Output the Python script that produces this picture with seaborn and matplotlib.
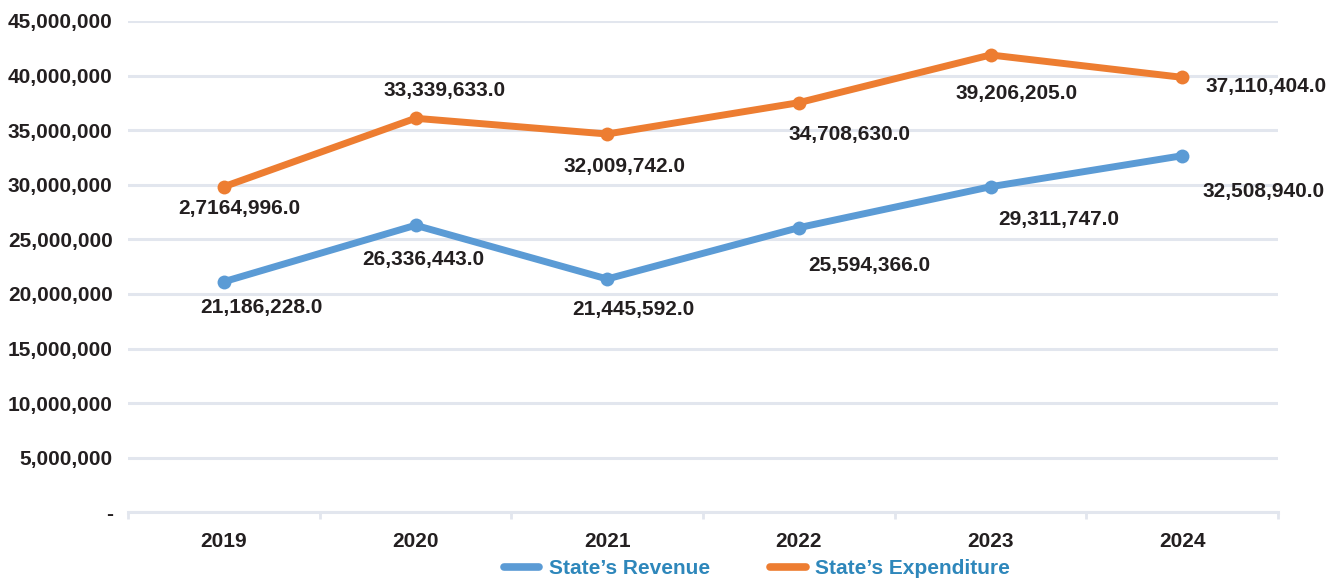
import matplotlib
matplotlib.use("Agg")
import matplotlib.pyplot as plt
from matplotlib.lines import Line2D
from matplotlib.ticker import FixedLocator, FuncFormatter
import seaborn as sns
import pandas as pd

# ---- data ----
years = ["2019", "2020", "2021", "2022", "2023", "2024"]
revenue = [21120000, 26290000, 21370000, 26070000, 29820000, 32660000]
expenditure = [29820000, 36090000, 34650000, 37520000, 41890000, 39840000]
revenue_labels = ["21,186,228.0", "26,336,443.0", "21,445,592.0",
                  "25,594,366.0", "29,311,747.0", "32,508,940.0"]
expenditure_labels = ["2,7164,996.0", "33,339,633.0", "32,009,742.0",
                      "34,708,630.0", "39,206,205.0", "37,110,404.0"]
series_names = ["State\u2019s Revenue", "State\u2019s Expenditure"]
y_ticks = [0, 5000000, 10000000, 15000000, 20000000, 25000000,
           30000000, 35000000, 40000000, 45000000]

# ---- styling ----
sns.set_theme(style="white")
plt.rcParams["font.family"] = ["Liberation Sans", "DejaVu Sans"]
plt.rcParams["font.weight"] = "bold"

colors = ["#5b9bd5", "#ed7d31"]
text_dark = "#231f20"
grid_col = "#e2e6ee"
legend_text_col = "#2e87bb"

# label offsets in points (dx, dy)
rev_offsets = [(27.4, -18.6), (5.4, -24.6), (19.1, -22.0),
               (51.1, -27.2), (49.3, -23.6), (58.7, -25.4)]
exp_offsets = [(11.5, -15.7), (21.2, 19.7), (12.6, -23.4),
               (36.7, -22.9), (18.7, -27.7), (60.5, -6.6)]

df = pd.DataFrame({
    "Year": years * 2,
    "Value": revenue + expenditure,
    "Series": [series_names[0]] * len(years) + [series_names[1]] * len(years),
})

fig = plt.figure(figsize=(13.41, 5.83), dpi=100)
ax = fig.add_axes([128 / 1341, 1 - 512.3 / 583, (1278 - 128) / 1341, (512.3 - 21) / 583])

sns.lineplot(data=df, x="Year", y="Value", hue="Series", palette=colors,
             marker="o", markersize=10, markeredgewidth=0, linewidth=5,
             sort=False, legend=False, ax=ax, zorder=3)
for ln in ax.lines:
    ln.set_solid_capstyle("round")
    ln.set_solid_joinstyle("round")

ax.set_xlim(-0.5, len(years) - 0.5)
ax.set_ylim(0, 45000000)

# gridlines
ax.yaxis.set_major_locator(FixedLocator(y_ticks))
ax.grid(axis="y", color=grid_col, linewidth=2.2, zorder=0)
ax.grid(axis="x", visible=False)
for s in ["top", "right", "left"]:
    ax.spines[s].set_visible(False)
ax.spines["bottom"].set_color(grid_col)
ax.spines["bottom"].set_linewidth(2.2)
ax.spines["bottom"].set_zorder(1)

ax.yaxis.set_major_formatter(FuncFormatter(lambda v, p: "-" if v == 0 else f"{int(v):,}"))
ax.tick_params(axis="y", length=0, pad=11, labelsize=15, labelcolor=text_dark)

# x ticks: labels at centers, tick marks at boundaries
ax.set_xticks(range(len(years)))
ax.set_xticklabels(years)
ax.set_xticks([i - 0.5 for i in range(len(years) + 1)], minor=True)
ax.tick_params(axis="x", which="major", bottom=True, length=0, pad=14,
               labelsize=15, labelcolor=text_dark)
ax.tick_params(axis="x", which="minor", bottom=True, direction="out",
               length=5, width=2, color=grid_col)
ax.set_xlabel("")
ax.set_ylabel("")
for lbl in ax.get_xticklabels() + ax.get_yticklabels():
    lbl.set_fontweight("bold")

# data labels
for i, (v, t, off) in enumerate(zip(revenue, revenue_labels, rev_offsets)):
    ax.annotate(t, (i, v), xytext=off, textcoords="offset points",
                ha="center", va="center", fontsize=15, fontweight="bold",
                color=text_dark, zorder=5)
for i, (v, t, off) in enumerate(zip(expenditure, expenditure_labels, exp_offsets)):
    ax.annotate(t, (i, v), xytext=off, textcoords="offset points",
                ha="center", va="center", fontsize=15, fontweight="bold",
                color=text_dark, zorder=5)

# legend
handles = [Line2D([0], [0], color=c, linewidth=5.5, solid_capstyle="round") for c in colors]
leg = fig.legend(handles, series_names, loc="center", bbox_to_anchor=(757 / 1341, 1 - 569 / 583),
                 ncol=2, frameon=False, fontsize=15, handlelength=1.7,
                 handletextpad=0.45, columnspacing=2.9, borderpad=0)
for t in leg.get_texts():
    t.set_color(legend_text_col)
    t.set_fontweight("bold")

fig.savefig("out.png", dpi=100)
